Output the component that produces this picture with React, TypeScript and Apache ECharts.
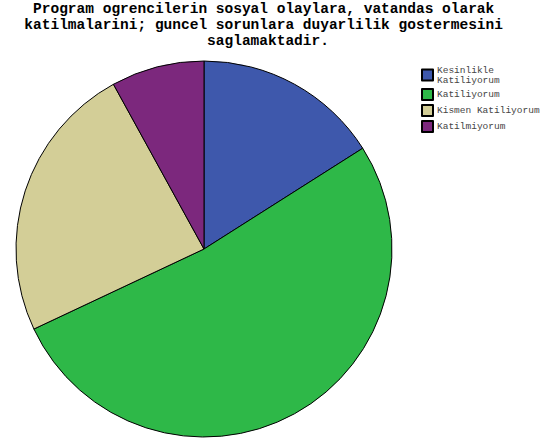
import React, { useEffect, useRef } from "react";
import * as echarts from "echarts";

const categories = ["Kesinlikle Katiliyorum", "Katiliyorum", "Kismen Katiliyorum", "Katilmiyorum"];
const values = [16, 52, 24, 8];
const colors = ["#3E58AC", "#2EB848", "#D3CE97", "#7C287D"];
const titleLines = [
  "Program ogrencilerin sosyal olaylara, vatandas olarak ",
  "katilmalarini; guncel sorunlara duyarlilik gostermesini ",
  "saglamaktadir.",
];

export default function App() {
  const ref = useRef<HTMLDivElement>(null);
  useEffect(() => {
    document.body.style.margin = "0";
    const chart = echarts.init(ref.current!, null, { renderer: "svg" });
    chart.setOption({
      animation: false,
      backgroundColor: "#ffffff",
      title: {
        text: titleLines.join("\n"),
        left: 268,
        top: 1,
        padding: 0,
        textAlign: "center",
        textStyle: {
          fontFamily: "'Liberation Mono', monospace",
          fontWeight: "bold",
          fontSize: 14.5,
          lineHeight: 16,
          color: "#000",
        },
      },
      legend: {
        orient: "vertical",
        left: 421,
        top: 65,
        padding: 0,
        itemWidth: 11,
        itemHeight: 11,
        itemGap: 3,
        icon: "rect",
        formatter: (name: string) => (name === "Kesinlikle Katiliyorum" ? "Kesinlikle\nKatiliyorum" : name),
        textStyle: {
          fontFamily: "'Liberation Mono', monospace",
          fontSize: 9.5,
          lineHeight: 10,
          color: "#444",
          padding: [0, 0, 0, -1],
        },
        data: categories,
      },
      series: [
        {
          type: "pie",
          center: [204, 249],
          radius: 188,
          startAngle: 90,
          clockwise: true,
          label: { show: false },
          labelLine: { show: false },
          emphasis: { disabled: true },
          itemStyle: { borderColor: "#000", borderWidth: 1 },
          data: categories.map((c, i) => ({ name: c, value: values[i], itemStyle: { color: colors[i] } })),
        },
      ],
    });
    return () => chart.dispose();
  }, []);
  return <div ref={ref} style={{ width: 544, height: 439 }} />;
}
